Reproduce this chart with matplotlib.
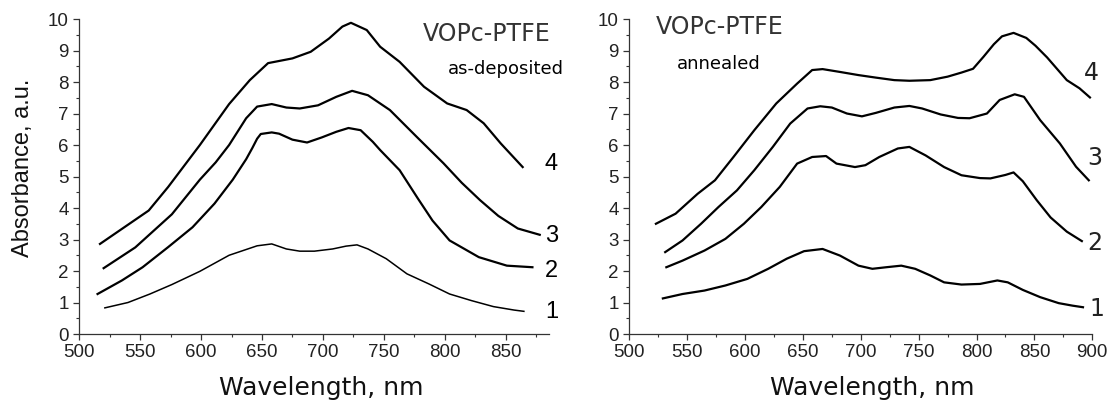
#imports
import matplotlib
matplotlib.use('Agg')
import matplotlib.pyplot as plt
from matplotlib.ticker import MultipleLocator

# as-deposited film, curves 1-4 (wavelength nm / absorbance a.u.)
depWl1 = [521, 540, 558, 576, 599, 623, 646, 658, 670, 681, 693, 708, 719, 728, 737, 752, 769, 787, 804, 822, 840, 857, 865]
depAbs1 = [0.83, 1.0, 1.27, 1.57, 1.99, 2.5, 2.8, 2.86, 2.7, 2.63, 2.63, 2.7, 2.79, 2.83, 2.7, 2.39, 1.91, 1.59, 1.27, 1.06, 0.87, 0.76, 0.72]

depWl2 = [515, 535, 552, 573, 593, 611, 626, 637, 642, 646, 649, 658, 664, 675, 687, 699, 711, 721, 731, 741, 747, 763, 778, 790, 804, 828, 851, 872]
depAbs2 = [1.27, 1.70, 2.12, 2.76, 3.39, 4.14, 4.9, 5.55, 5.9, 6.2, 6.35, 6.4, 6.36, 6.17, 6.08, 6.24, 6.42, 6.54, 6.47, 6.1, 5.84, 5.2, 4.3, 3.6, 2.97, 2.44, 2.17, 2.12]

depWl3 = [520, 546, 576, 599, 612, 623, 637, 646, 658, 670, 681, 696, 711, 724, 737, 755, 777, 799, 814, 829, 844, 860, 878]
depAbs3 = [2.09, 2.75, 3.8, 4.9, 5.45, 6.0, 6.85, 7.22, 7.3, 7.19, 7.16, 7.26, 7.53, 7.72, 7.58, 7.11, 6.26, 5.42, 4.8, 4.25, 3.75, 3.35, 3.15]

depWl4 = [517, 557, 573, 599, 623, 640, 655, 675, 690, 705, 716, 723, 736, 747, 763, 783, 802, 818, 832, 846, 864]
depAbs4 = [2.86, 3.92, 4.67, 6.0, 7.3, 8.06, 8.6, 8.75, 8.96, 9.38, 9.76, 9.88, 9.65, 9.12, 8.64, 7.85, 7.32, 7.11, 6.69, 6.05, 5.3]

# annealed film, curves 1-4
annWl1 = [529, 546, 565, 583, 602, 620, 636, 651, 667, 682, 698, 710, 722, 735, 747, 760, 772, 787, 803, 818, 827, 840, 855, 871, 883, 892]
annAbs1 = [1.13, 1.27, 1.38, 1.54, 1.75, 2.07, 2.39, 2.63, 2.7, 2.49, 2.17, 2.07, 2.12, 2.17, 2.07, 1.86, 1.64, 1.57, 1.59, 1.7, 1.64, 1.4, 1.17, 0.98, 0.9, 0.85]

annWl2 = [532, 546, 565, 583, 599, 614, 630, 645, 658, 670, 679, 695, 704, 716, 732, 742, 756, 772, 787, 803, 812, 825, 832, 840, 852, 864, 878, 891]
annAbs2 = [2.12, 2.33, 2.65, 3.02, 3.5, 4.03, 4.67, 5.41, 5.62, 5.65, 5.41, 5.3, 5.36, 5.62, 5.89, 5.94, 5.67, 5.3, 5.04, 4.95, 4.94, 5.05, 5.13, 4.85, 4.25, 3.7, 3.25, 2.95]

annWl3 = [531, 546, 562, 577, 593, 608, 624, 639, 654, 665, 675, 688, 701, 713, 729, 742, 753, 769, 784, 794, 809, 820, 833, 841, 855, 872, 886, 897]
annAbs3 = [2.6, 2.97, 3.5, 4.03, 4.56, 5.2, 5.94, 6.68, 7.16, 7.23, 7.19, 7.0, 6.91, 7.02, 7.19, 7.24, 7.16, 6.97, 6.86, 6.85, 7.0, 7.43, 7.61, 7.53, 6.79, 6.05, 5.31, 4.88]

annWl4 = [523, 540, 559, 574, 590, 608, 627, 645, 658, 667, 682, 698, 713, 729, 742, 760, 775, 787, 797, 806, 815, 822, 832, 843, 851, 861, 878, 889, 898]
annAbs4 = [3.5, 3.82, 4.45, 4.88, 5.62, 6.47, 7.32, 7.95, 8.38, 8.41, 8.32, 8.22, 8.14, 8.06, 8.04, 8.06, 8.17, 8.3, 8.42, 8.8, 9.2, 9.45, 9.56, 9.4, 9.15, 8.78, 8.06, 7.8, 7.51]

curveNames = ['1', '2', '3', '4']


def styleAxes(ax, xmax):
    #only bottom and left axis lines like the original
    ax.set_xlim(500, xmax)
    ax.set_ylim(0, 10)
    ax.spines['top'].set_visible(False)
    ax.spines['right'].set_visible(False)
    for side in ['left', 'bottom']:
        ax.spines[side].set_linewidth(0.9)
        ax.spines[side].set_color('#333333')
    ax.xaxis.set_major_locator(MultipleLocator(50))
    ax.xaxis.set_minor_locator(MultipleLocator(25))
    ax.yaxis.set_major_locator(MultipleLocator(1))
    ax.yaxis.set_minor_locator(MultipleLocator(0.5))
    ax.tick_params(which='major', direction='out', length=4, width=0.9, color='#333333',
                   labelsize=13.5, pad=3.5)
    ax.tick_params(which='minor', direction='out', length=2.5, width=0.8, color='#333333')
    for lab in ax.get_xticklabels() + ax.get_yticklabels():
        lab.set_family('Liberation Sans')
        lab.set_color('#222222')
    ax.set_xlabel('Wavelength, nm', fontsize=18, family='DejaVu Sans', va='center', color='#111111')


fig = plt.figure(figsize=(11.15, 4.03), dpi=100)
axLeft = fig.add_axes([0.0711, 0.1712, 0.4217, 0.7816])
axRight = fig.add_axes([0.5644, 0.1712, 0.4152, 0.7816])

#left panel - as-deposited
depWl = [depWl1, depWl2, depWl3, depWl4]
depAbs = [depAbs1, depAbs2, depAbs3, depAbs4]
for i in range(4):
    lw = 1.1 if i == 0 else 1.6
    axLeft.plot(depWl[i], depAbs[i], color='black', linewidth=lw)
styleAxes(axLeft, 886)
axLeft.xaxis.set_label_coords(0.514, -0.17)
axLeft.set_ylabel('Absorbance, a.u.', fontsize=17, family='Liberation Sans', va='center', color='#111111')
axLeft.yaxis.set_label_coords(-0.12, 0.529)

depLabelY = [0.7, 2.0, 3.1, 5.4]
for i in range(4):
    axLeft.text(887.6, depLabelY[i], curveNames[i], fontsize=17, family='Liberation Sans',
                ha='center', va='center', clip_on=False)
axLeft.text(782.4, 9.52, 'VOPc-PTFE', fontsize=17, family='DejaVu Sans', color='#333333',
            ha='left', va='center', clip_on=False)
axLeft.text(803, 8.4, 'as-deposited', fontsize=13, family='DejaVu Sans',
            ha='left', va='center', clip_on=False)

#right panel - annealed
annWl = [annWl1, annWl2, annWl3, annWl4]
annAbs = [annAbs1, annAbs2, annAbs3, annAbs4]
for i in range(4):
    axRight.plot(annWl[i], annAbs[i], color='black', linewidth=1.6)
styleAxes(axRight, 900)
axRight.xaxis.set_label_coords(0.524, -0.17)

annLabelX = [904, 902, 902, 899.6]
annLabelY = [0.8, 2.88, 5.58, 8.3]
for i in range(4):
    axRight.text(annLabelX[i], annLabelY[i], curveNames[i], fontsize=17, family='DejaVu Sans',
                 color='#222222', ha='center', va='center', clip_on=False)
axRight.text(522.9, 9.74, 'VOPc-PTFE', fontsize=17, family='DejaVu Sans', color='#333333',
             ha='left', va='center', clip_on=False)
axRight.text(540.8, 8.56, 'annealed', fontsize=13, family='DejaVu Sans',
             ha='left', va='center', clip_on=False)

fig.savefig('out.png', dpi=100)
